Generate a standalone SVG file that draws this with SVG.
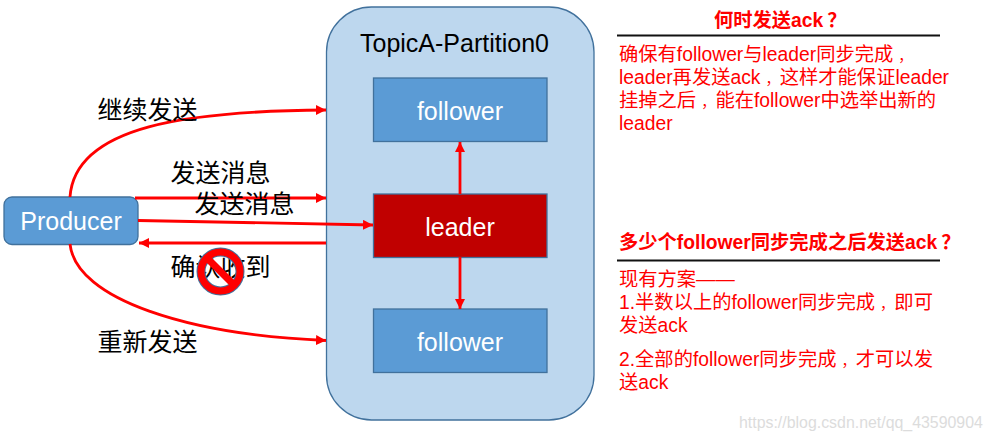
<svg xmlns="http://www.w3.org/2000/svg" width="992" height="441" viewBox="0 0 992 441">
<style>
text{font-family:"Liberation Sans","Noto Sans CJK SC",sans-serif}
.w{fill:#fff;font-size:25px;text-anchor:middle}
.k{fill:#000;font-size:25px}
.r{fill:#f00;font-size:19.3px}
.b{fill:#f00;font-size:19.3px;font-weight:bold}
.p{font-size:14.3px}
.box{fill:#5b9bd5;stroke:#41719c;stroke-width:1.3}
.m{fill:none;stroke:#f00;stroke-width:2.8;marker-end:url(#a)}
.rule{stroke:#111;stroke-width:2}
</style>
<defs><marker id="a" markerUnits="userSpaceOnUse" markerWidth="12" markerHeight="12" refX="10" refY="5" orient="auto"><path d="M0 0L10 5L0 10Z" fill="#f00"/></marker></defs>
<rect width="992" height="441" fill="#fff"/>
<g id="partition"><rect x="326.500" y="7" width="267.500" height="413" rx="45" fill="#bdd7ee" stroke="#41719c" stroke-width="1.3"/><text x="454.500" y="52" font-size="25" text-anchor="middle" fill="#000">TopicA-Partition0</text></g>
<g id="follower-top"><rect class="box" x="373.500" y="78" width="173.500" height="63.500"/><text class="w" x="460" y="120">follower</text></g>
<g id="leader"><rect x="373.500" y="194" width="173.500" height="63.500" fill="#c00000" stroke="#41719c" stroke-width="1.3"/><text class="w" x="460" y="236">leader</text></g>
<g id="follower-bottom"><rect class="box" x="373.500" y="309" width="173.500" height="63.500"/><text class="w" x="460" y="351">follower</text></g>
<g id="producer"><rect class="box" x="4" y="197" width="134" height="47.500" rx="8"/><text class="w" x="71" y="230">Producer</text></g>
<g id="connectors">
<path class="m" d="M70 197C75 125 190 111 326 110"/>
<path class="m" d="M135 198H326"/>
<path class="m" d="M138 220.500L373 225"/>
<path class="m" d="M326 243H139"/>
<path class="m" d="M70 244C76 300 190 335 326 340.500"/>
<path class="m" d="M460 194V142"/>
<path class="m" d="M460 257V309"/>
</g>
<g id="labels">
<text class="k" x="97.500" y="119">继续发送</text>
<text class="k" x="170.500" y="182">发送消息</text>
<text class="k" x="194.500" y="213">发送消息</text>
<text class="k" x="170.500" y="276">确认收到</text>
<text class="k" x="97.500" y="351">重新发送</text>
</g>
<g id="no-symbol"><circle cx="220.500" cy="271.500" r="19.500" fill="none" stroke="#41719c" stroke-width="9"/><circle cx="220.500" cy="271.500" r="19.500" fill="none" stroke="#f00" stroke-width="7"/><path d="M206.500 257.500L234.500 285.500" stroke="#f00" stroke-width="7"/></g>
<g id="notes">
<text class="b" x="714" y="27">何时发送ack<tspan dx="4">？</tspan></text>
<line class="rule" x1="617" y1="35.500" x2="940" y2="35.500"/>
<text class="r" x="619" y="61">确保有follower与leader同步完成<tspan class="p" dx="5">，</tspan></text>
<text class="r" x="619" y="84">leader再发送ack<tspan class="p" dx="5">，</tspan>这样才能保证leader</text>
<text class="r" x="619" y="107">挂掉之后<tspan class="p" dx="5">，</tspan>能在follower中选举出新的</text>
<text class="r" x="619" y="130">leader</text>
<text class="b" x="619" y="249">多少个follower同步完成之后发送ack<tspan dx="4">？</tspan></text>
<line class="rule" x1="617" y1="260.500" x2="940" y2="260.500"/>
<text class="r" x="619" y="286">现有方案——</text>
<text class="r" x="619" y="309">1.半数以上的follower同步完成<tspan class="p" dx="5">，</tspan>即可</text>
<text class="r" x="619" y="332">发送ack</text>
<text class="r" x="619" y="366">2.全部的follower同步完成<tspan class="p" dx="5">，</tspan>才可以发</text>
<text class="r" x="619" y="389">送ack</text>
<text x="739" y="428" font-size="15.900" fill="#dcdcdc">https://blog.csdn.net/qq_43590904</text>
</g>
</svg>
